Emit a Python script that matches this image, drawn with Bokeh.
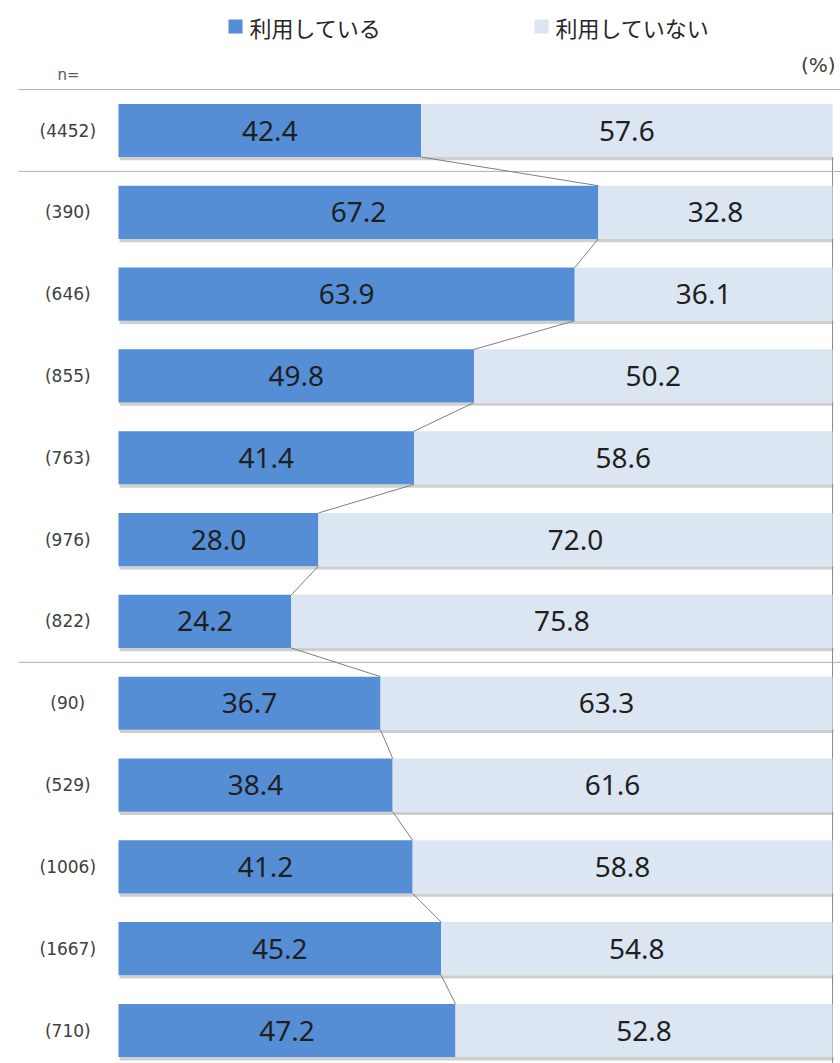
from bokeh.plotting import figure
from bokeh.models import Range1d, ColumnDataSource
from bokeh.core.properties import value
from bokeh.embed import file_html
from bokeh.resources import INLINE

n_labels = ["(4452)", "(390)", "(646)", "(855)", "(763)", "(976)", "(822)",
            "(90)", "(529)", "(1006)", "(1667)", "(710)"]
using = [42.4, 67.2, 63.9, 49.8, 41.4, 28.0, 24.2, 36.7, 38.4, 41.2, 45.2, 47.2]
not_using = [57.6, 32.8, 36.1, 50.2, 58.6, 72.0, 75.8, 63.3, 61.6, 58.8, 54.8, 52.8]
series_names = ["利用している", "利用していない"]
colors = ["#558ED5", "#DCE6F2"]
group_breaks = [-0.5, 0.5, 6.5]

W, H = 840, 1063
px_x = 7.14
px_y = 81.82
x0 = -118 / px_x
x1 = (W - 118) / px_x
y_top = -130 / px_y
y_bot = (H - 130) / px_y

p = figure(width=W, height=H, output_backend="svg", toolbar_location=None,
           x_range=Range1d(x0, x1), y_range=Range1d(y_bot, y_top),
           min_border=0, outline_line_color=None)
p.axis.visible = False
p.grid.visible = False
p.background_fill_color = "white"

idx = list(range(len(using)))
bh = 0.65
tops = [i - bh / 2 for i in idx]
bots = [i + bh / 2 for i in idx]
ends = [a + b for a, b in zip(using, not_using)]

# right reference line
p.segment(x0=[100], y0=[bots[0]], x1=[100], y1=[y_bot], line_color="#8c8c8c", line_width=1)

# separators
p.segment(x0=[-14.0] * len(group_breaks), y0=group_breaks, x1=[x1] * len(group_breaks),
          y1=group_breaks, line_color="#b0b0b0", line_width=1)

# shadows
p.quad(left=[0.15] * len(idx), right=[e + 0.15 for e in ends], top=bots,
       bottom=[b + 0.04 for b in bots], fill_color="#a0a0a0", fill_alpha=0.5, line_color=None)

src = ColumnDataSource(dict(y=idx, top=tops, bot=bots, u=using, nu=not_using, end=ends,
                            uc=[u / 2 for u in using],
                            nc=[u + n / 2 for u, n in zip(using, not_using)],
                            ul=[f"{u:.1f}" for u in using],
                            nl=[f"{n:.1f}" for n in not_using],
                            nlab=n_labels, nx=[-7.1] * len(idx), zero=[0] * len(idx)))

p.quad(left="zero", right="u", top="top", bottom="bot", source=src,
       fill_color=colors[0], line_color=None)
p.quad(left="u", right="end", top="top", bottom="bot", source=src,
       fill_color=colors[1], line_color=None)

# connector lines
p.segment(x0=using[:-1], y0=bots[:-1], x1=using[1:], y1=tops[1:],
          line_color="#7f7f7f", line_width=1)

# value labels
p.text(x="uc", y="y", text="ul", source=src, text_align="center", text_baseline="middle",
       text_font=value("Noto Sans"), text_font_size="28px", text_color="#1f1f1f")
p.text(x="nc", y="y", text="nl", source=src, text_align="center", text_baseline="middle",
       text_font=value("Noto Sans"), text_font_size="28px", text_color="#1f1f1f")

# n labels
p.text(x="nx", y="y", text="nlab", source=src, text_align="center", text_baseline="middle",
       text_font=value("DejaVu Sans"), text_font_size="17px", text_color="#404040")

# header texts
p.text(x=[(68 - 118) / px_x], y=[(74 - 130) / px_y], text=["n="], text_align="center",
       text_baseline="middle", text_font=value("DejaVu Sans"), text_font_size="15px",
       text_color="#595959")
p.text(x=[(835 - 118) / px_x], y=[(64 - 130) / px_y], text=["(%)"], text_align="right",
       text_baseline="middle", text_font=value("DejaVu Sans"), text_font_size="20px",
       text_color="#404040")

# legend
leg_y = (26 - 130) / px_y
sq_x = [(235 - 118) / px_x, (541 - 118) / px_x]
p.rect(x=sq_x, y=[leg_y] * 2, width=14, height=14, width_units="screen", height_units="screen",
       fill_color=colors, line_color=None)
p.text(x=[(249 - 118) / px_x, (555 - 118) / px_x], y=[leg_y] * 2, text=series_names,
       text_align="left", text_baseline="middle", text_font=value("Noto Sans CJK JP"),
       text_font_size="22px", text_color="#262626")

open("out.html", "w").write(file_html(p, INLINE))
